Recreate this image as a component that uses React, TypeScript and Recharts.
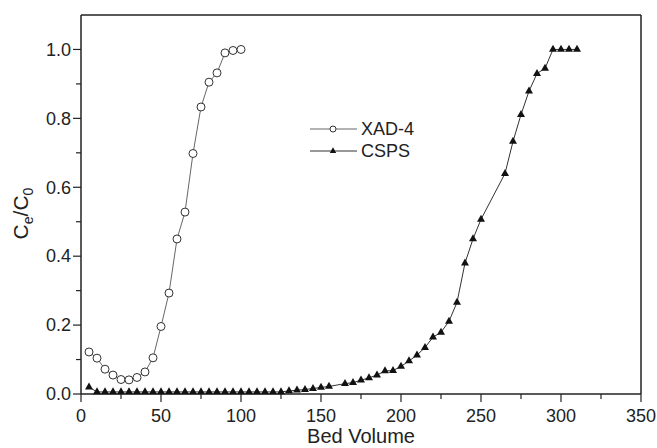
import { Legend, Line, LineChart, ReferenceLine, XAxis, YAxis } from "recharts";

const xadBedVolume = [5, 10, 15, 20, 25, 30, 35, 40, 45, 50, 55, 60, 65, 70, 75, 80, 85, 90, 95, 100];
const xadRatio = [
  0.122, 0.104, 0.072, 0.055, 0.042, 0.041, 0.048, 0.064, 0.105, 0.196, 0.293, 0.45, 0.528,
  0.698, 0.833, 0.905, 0.932, 0.99, 0.997, 1.0,
];

const cspsBedVolume = [
  5, 10, 15, 20, 25, 30, 35, 40, 45, 50, 55, 60, 65, 70, 75, 80, 85, 90, 95, 100, 105, 110, 115,
  120, 125, 130, 135, 140, 145, 150, 155, 165, 170, 175, 180, 185, 190, 195, 200, 205, 210, 215,
  220, 225, 230, 235, 240, 245, 250, 265, 270, 275, 280, 285, 290, 295, 300, 305, 310,
];
const cspsRatio = [
  0.02, 0.006, 0.006, 0.006, 0.006, 0.006, 0.006, 0.006, 0.006, 0.006, 0.006, 0.006, 0.006,
  0.006, 0.006, 0.006, 0.006, 0.006, 0.006, 0.006, 0.006, 0.006, 0.006, 0.006, 0.006, 0.009,
  0.011, 0.013, 0.016, 0.019, 0.022, 0.03, 0.033, 0.04, 0.047, 0.055, 0.067, 0.068, 0.08, 0.096,
  0.113, 0.135, 0.165, 0.179, 0.211, 0.266, 0.38, 0.45, 0.507, 0.64, 0.733, 0.811, 0.879, 0.93,
  0.945, 1.0, 1.0, 1.0, 1.0,
];

const xTicks = [0, 25, 50, 75, 100, 125, 150, 175, 200, 225, 250, 275, 300, 325, 350];
const yTicks = [0, 0.1, 0.2, 0.3, 0.4, 0.5, 0.6, 0.7, 0.8, 0.9, 1.0];
const xMax = 350;
const yMax = 1.1;

const xadData = xadBedVolume.map((x, i) => ({ x, y: xadRatio[i] }));
const cspsData = cspsBedVolume.map((x, i) => ({ x, y: cspsRatio[i] }));

const FONT = '"Liberation Sans", Arial, sans-serif';
const INK = "#222";

const XTick = ({ x, y, payload }: any) => {
  const major = payload.value % 50 === 0;
  return (
    <g>
      <line x1={x} x2={x} y1={y} y2={y + (major ? 8 : 5)} stroke={INK} strokeWidth={1.2} />
      {major && (
        <text x={x} y={y + 28} textAnchor="middle" fontSize={18} fontFamily={FONT} fill={INK}>
          {payload.value}
        </text>
      )}
    </g>
  );
};

const YTick = ({ x, y, payload }: any) => {
  const major = Math.round(payload.value * 10) % 2 === 0;
  return (
    <g>
      <line x1={x - (major ? 8 : 5)} x2={x} y1={y} y2={y} stroke={INK} strokeWidth={1.2} />
      {major && (
        <text x={x - 10} y={y} dy="0.35em" textAnchor="end" fontSize={18} fontFamily={FONT} fill={INK}>
          {payload.value.toFixed(1)}
        </text>
      )}
    </g>
  );
};

const Circle = ({ cx, cy, r = 4 }: any) => (
  <circle cx={cx} cy={cy} r={r} fill="#fff" stroke="#333" strokeWidth={1} />
);

const Triangle = ({ cx, cy, s = 4 }: any) => (
  <path
    d={`M${cx},${cy - s * 1.15} L${cx - s},${cy + s * 0.6} L${cx + s},${cy + s * 0.6} Z`}
    fill="#111"
  />
);

const renderCircle = (props: any) => <Circle key={`c-${props.index}`} cx={props.cx} cy={props.cy} />;
const renderTriangle = (props: any) => <Triangle key={`t-${props.index}`} cx={props.cx} cy={props.cy} />;

const legendRows = [
  { name: "XAD-4", marker: "circle", color: "#666" },
  { name: "CSPS", marker: "triangle", color: "#333" },
];

const LegendBox = () => (
  <div style={{ fontFamily: FONT, fontSize: 18, color: INK }}>
    {legendRows.map((row) => (
      <div key={row.name} style={{ display: "flex", alignItems: "center", height: 22 }}>
        <svg width={48} height={22}>
          <line x1={0} x2={47} y1={11} y2={11} stroke={row.color} strokeWidth={1} />
          {row.marker === "circle" ? <Circle cx={23} cy={11} r={3} /> : <Triangle cx={23} cy={11} s={3.2} />}
        </svg>
        <span style={{ marginLeft: 3, lineHeight: "22px" }}>{row.name}</span>
      </div>
    ))}
  </div>
);

const YLabel = ({ viewBox }: any) => {
  const x = viewBox.x + 28;
  const y = viewBox.y + viewBox.height / 2 + 9;
  return (
    <text
      x={x}
      y={y}
      transform={`rotate(-90, ${x}, ${y})`}
      textAnchor="middle"
      fontSize={21}
      fontFamily={FONT}
      fill={INK}
    >
      C
      <tspan fontSize={14} dy={5}>e</tspan>
      <tspan dy={-5}>/C</tspan>
      <tspan fontSize={14} dy={5}>0</tspan>
    </text>
  );
};

export default function App() {
  return (
    <div style={{ position: "absolute", left: 0, top: 0 }}>
      <LineChart width={657} height={448} margin={{ top: 15, right: 16, bottom: 0, left: 0 }}>
        <XAxis
          type="number"
          dataKey="x"
          domain={[0, xMax]}
          ticks={xTicks}
          interval={0}
          height={54}
          tickSize={0}
          tickMargin={0}
          tick={<XTick />}
          tickLine={false}
          axisLine={{ stroke: INK, strokeWidth: 1.5 }}
          label={{
            value: "Bed Volume",
            position: "insideBottom",
            offset: 5,
            fontSize: 20,
            fontFamily: FONT,
            fill: INK,
          }}
        />
        <YAxis
          type="number"
          domain={[0, yMax]}
          ticks={yTicks}
          interval={0}
          width={81}
          tickSize={0}
          tickMargin={0}
          tick={<YTick />}
          tickLine={false}
          axisLine={{ stroke: INK, strokeWidth: 1.5 }}
          label={{ content: <YLabel /> }}
        />
        <ReferenceLine y={yMax} stroke={INK} strokeWidth={1.5} />
        <ReferenceLine x={xMax} stroke={INK} strokeWidth={1.5} />
        <Legend
          layout="vertical"
          align="center"
          verticalAlign="middle"
          content={<LegendBox />}
          wrapperStyle={{ left: 310, top: 118, width: 130 }}
        />
        <Line
          data={xadData}
          dataKey="y"
          name="XAD-4"
          stroke="#666"
          strokeWidth={1}
          dot={renderCircle}
          activeDot={false}
          isAnimationActive={false}
        />
        <Line
          data={cspsData}
          dataKey="y"
          name="CSPS"
          stroke="#333"
          strokeWidth={1}
          dot={renderTriangle}
          activeDot={false}
          isAnimationActive={false}
        />
      </LineChart>
    </div>
  );
}
